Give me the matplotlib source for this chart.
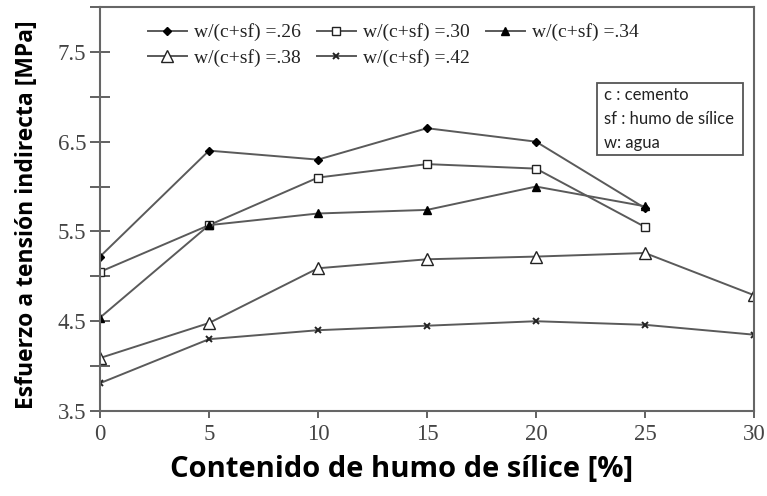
import matplotlib
matplotlib.use("Agg")
import matplotlib.pyplot as plt
from matplotlib.ticker import MultipleLocator, FixedLocator
from matplotlib.patches import Rectangle

silica = [0, 5, 10, 15, 20, 25, 30]
labels = ["w/(c+sf) =.26", "w/(c+sf) =.30", "w/(c+sf) =.34",
          "w/(c+sf) =.38", "w/(c+sf) =.42"]
y26 = [5.22, 6.40, 6.30, 6.65, 6.50, 5.76]
y30 = [5.05, 5.57, 6.10, 6.25, 6.20, 5.55]
y34 = [4.54, 5.57, 5.70, 5.74, 6.00, 5.78]
y38 = [4.09, 4.48, 5.09, 5.19, 5.22, 5.26, 4.79]
y42 = [3.81, 4.30, 4.40, 4.45, 4.50, 4.46, 4.35]
yticks = [3.5, 4.5, 5.5, 6.5, 7.5]
xticks = [0, 5, 10, 15, 20, 25, 30]
note = "c : cemento\nsf : humo de sílice\nw: agua"

fig = plt.figure(figsize=(7.67, 4.96), dpi=100)
ax = fig.add_axes([100/767, 1-411/496, (754-100)/767, (411-7)/496])

lc = "#5a5a5a"
lw = 1.4
series = [
    (y26, dict(marker="D", ms=4.5, mfc="black", mec="black")),
    (y30, dict(marker="s", ms=5.5, mfc="white", mec="#222222", mew=1.0)),
    (y34, dict(marker="^", ms=6, mfc="black", mec="black")),
    (y38, dict(marker="^", ms=8, mfc="white", mec="#222222", mew=1.0)),
    (y42, dict(marker="x", ms=5, mec="#222222", mew=1.4)),
]
handles = []
for (ys, mk), lab in zip(series, labels):
    h, = ax.plot(silica[:len(ys)], ys, color=lc, lw=lw, label=lab, **mk)
    handles.append(h)

ax.set_xlim(0, 30)
ax.set_ylim(3.5, 8.0)
ax.xaxis.set_major_locator(FixedLocator(xticks))
ax.yaxis.set_major_locator(FixedLocator(yticks))
ax.yaxis.set_minor_locator(MultipleLocator(0.5))
ax.set_xticklabels([str(v) for v in xticks])
ax.set_yticklabels([f"{v:.1f}" for v in yticks])

serif = ["Liberation Serif", "DejaVu Serif"]
for t in ax.get_xticklabels() + ax.get_yticklabels():
    t.set_fontfamily(serif)
    t.set_fontsize(16.5)
    t.set_color("#444444")

ax.tick_params(axis="y", which="both", direction="inout", length=14, width=1.3,
               color="#555555", pad=3)
ax.tick_params(axis="x", which="major", direction="out", length=5, width=1.3,
               color="#555555", pad=4)
for s in ax.spines.values():
    s.set_color("#666666")
    s.set_linewidth(1.5)

order = [0, 3, 1, 4, 2]
leg = ax.legend([handles[i] for i in order], [labels[i] for i in order],
                ncol=3, loc="upper left", bbox_to_anchor=(0.055, 0.988),
                frameon=False, prop={"family": serif, "size": 14},
                handlelength=2.0, handletextpad=0.4, columnspacing=0.8,
                labelspacing=0.4, borderaxespad=0.2)
for t in leg.get_texts():
    t.set_color("#222222")

fig.patches.append(Rectangle((597/767, 1-155/496), 146/767, 72/496,
                             transform=fig.transFigure, fc="white",
                             ec="#555555", lw=1.3, zorder=5))
fig.text(604/767, 1-87/496, note, ha="left", va="top", fontsize=12,
         family="Lato", color="#222222", linespacing=1.62, zorder=6)

fig.text(402/767, 1-470/496, "Contenido de humo de sílice [%]", ha="center",
         va="center", fontsize=21, fontweight="bold", family="Open Sans")
fig.text(27/767, 1-215/496, "Esfuerzo a tensión indirecta [MPa]", ha="center",
         va="center", rotation=90, fontsize=16.5, fontweight="bold",
         family="Open Sans")

fig.savefig("out.png", dpi=100)
